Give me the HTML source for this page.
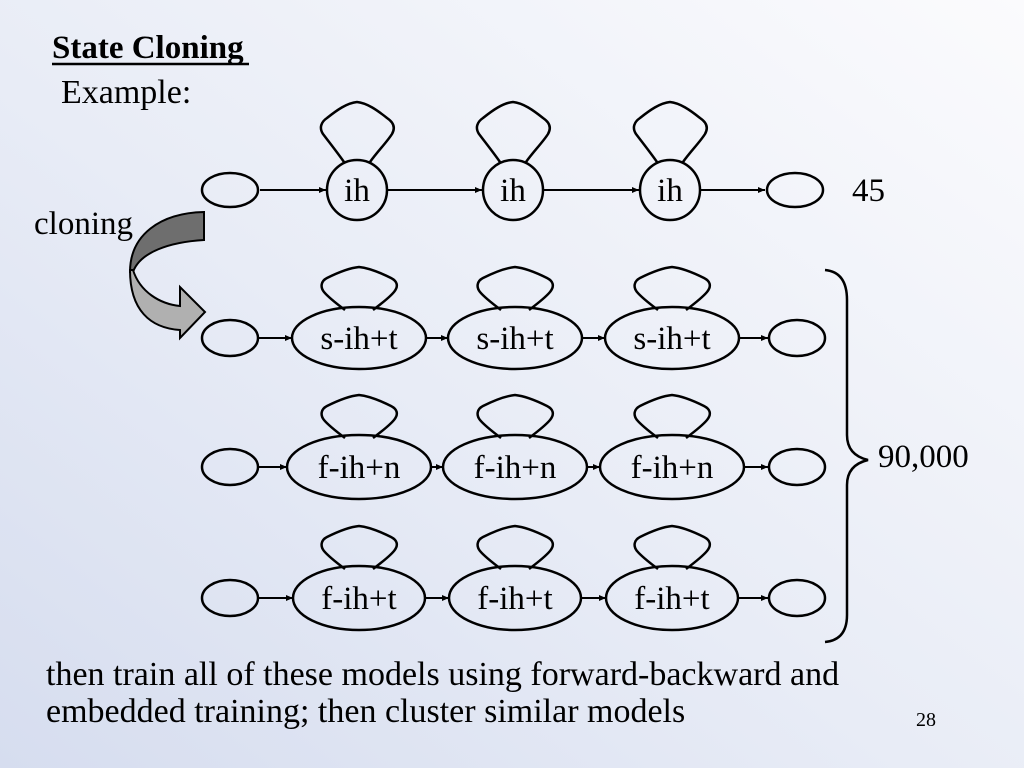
<!DOCTYPE html>
<html><head><meta charset="utf-8"><style>
html,body{margin:0;padding:0;overflow:hidden}
body{width:1024px;height:768px;background:linear-gradient(to top right,#d6ddef 0%,#e8ecf6 45%,#fbfbfd 100%);font-family:"Liberation Serif",serif}
svg{display:block}
</style></head><body>
<svg width="1024" height="768" viewBox="0 0 1024 768" xmlns="http://www.w3.org/2000/svg" font-family="Liberation Serif, serif">
<defs>
<marker id="ah" markerWidth="8" markerHeight="8" refX="7" refY="4" orient="auto" markerUnits="userSpaceOnUse">
<path d="M0,1 L7,4 L0,7 z" fill="#000"/></marker>
<path id="loop1" d="M13,2 C20,-8 30,-18 35,-26 C39,-33 36,-38 30,-42 C20,-50 10,-57 0,-58 C-10,-57 -20,-50 -30,-42 C-36,-38 -38,-32 -34,-26 C-28,-18 -20,-8 -13,2" fill="none" stroke="#000" stroke-width="2.5"/>
<path id="loop2" d="M14,2 C22,-4 30,-10 35,-16 C40,-22 38,-27 32,-30 C22,-35 10,-40 0,-41 C-10,-40 -22,-35 -32,-30 C-38,-27 -39,-21 -35,-16 C-30,-10 -22,-4 -14,2" fill="none" stroke="#000" stroke-width="2.5"/>
</defs>
<text x="52" y="58" font-size="33" font-weight="bold">State Cloning</text>
<line x1="52" y1="64" x2="249" y2="64" stroke="#000" stroke-width="2.5"/>
<text x="61" y="103" font-size="34">Example:</text>
<text x="34" y="234" font-size="33">cloning</text>

<path d="M204,212 L204,240 C170,242 140,252 133,272 L130,272 C130,235 160,213 204,212 Z" fill="#6e6e6e" stroke="#000" stroke-width="2"/>
<path d="M133,270 C140,292 160,304 180,306 L180,287 L205,312 L180,338 L180,330 C150,328 130,310 130,270 Z" fill="#b0b0b0" stroke="#000" stroke-width="2"/>

<g fill="none" stroke="#000" stroke-width="2.5">
<ellipse cx="230" cy="190" rx="28" ry="17"/>
<ellipse cx="795" cy="190" rx="28" ry="17"/>
<circle cx="357" cy="190" r="30"/><circle cx="513" cy="190" r="30"/><circle cx="670" cy="190" r="30"/>
<ellipse cx="230" cy="338" rx="28" ry="18"/><ellipse cx="797" cy="338" rx="28" ry="18"/>
<ellipse cx="359" cy="338" rx="67" ry="31"/><ellipse cx="515" cy="338" rx="67" ry="31"/><ellipse cx="672" cy="338" rx="67" ry="31"/>
<ellipse cx="230" cy="467" rx="28" ry="18"/><ellipse cx="797" cy="467" rx="28" ry="18"/>
<ellipse cx="359" cy="467" rx="72" ry="32"/><ellipse cx="515" cy="467" rx="72" ry="32"/><ellipse cx="672" cy="467" rx="72" ry="32"/>
<ellipse cx="230" cy="598" rx="28" ry="18"/><ellipse cx="797" cy="598" rx="28" ry="18"/>
<ellipse cx="359" cy="598" rx="66" ry="32"/><ellipse cx="515" cy="598" rx="66" ry="32"/><ellipse cx="672" cy="598" rx="66" ry="32"/>
</g>
<g stroke="#000" stroke-width="2" marker-end="url(#ah)">
<line x1="260" y1="190" x2="326" y2="190"/><line x1="388" y1="190" x2="482" y2="190"/><line x1="544" y1="190" x2="639" y2="190"/><line x1="701" y1="190" x2="765" y2="190"/>
<line x1="259" y1="338" x2="292" y2="338"/><line x1="426" y1="338" x2="448" y2="338"/><line x1="582" y1="338" x2="605" y2="338"/><line x1="739" y1="338" x2="768" y2="338"/>
<line x1="259" y1="467" x2="287" y2="467"/><line x1="431" y1="467" x2="443" y2="467"/><line x1="587" y1="467" x2="600" y2="467"/><line x1="744" y1="467" x2="768" y2="467"/>
<line x1="259" y1="598" x2="293" y2="598"/><line x1="425" y1="598" x2="449" y2="598"/><line x1="581" y1="598" x2="606" y2="598"/><line x1="738" y1="598" x2="768" y2="598"/>
</g>
<use href="#loop1" x="357" y="160"/><use href="#loop1" x="513" y="160"/><use href="#loop1" x="670" y="160"/>
<use href="#loop2" x="359" y="308"/><use href="#loop2" x="515" y="308"/><use href="#loop2" x="672" y="308"/>
<use href="#loop2" x="359" y="436"/><use href="#loop2" x="515" y="436"/><use href="#loop2" x="672" y="436"/>
<use href="#loop2" x="359" y="567"/><use href="#loop2" x="515" y="567"/><use href="#loop2" x="672" y="567"/>

<path d="M825,270 Q847,272 847,300 L847,435 Q847,455 868,460 Q847,465 847,485 L847,615 Q847,640 825,642" fill="none" stroke="#000" stroke-width="2.5"/>

<g font-size="33" text-anchor="middle">
<text x="357" y="201">ih</text><text x="513" y="201">ih</text><text x="670" y="201">ih</text>
<text x="359" y="349">s-ih+t</text><text x="515" y="349">s-ih+t</text><text x="672" y="349">s-ih+t</text>
<text x="359" y="478">f-ih+n</text><text x="515" y="478">f-ih+n</text><text x="672" y="478">f-ih+n</text>
<text x="359" y="609">f-ih+t</text><text x="515" y="609">f-ih+t</text><text x="672" y="609">f-ih+t</text>
</g>
<text x="852" y="201" font-size="33">45</text>
<text x="878" y="467" font-size="33">90,000</text>
<text x="46" y="685" font-size="34">then train all of these models using forward-backward and</text>
<text x="46" y="722" font-size="34">embedded training; then cluster similar models</text>
<text x="916" y="726" font-size="20">28</text>
</svg>
</body></html>
